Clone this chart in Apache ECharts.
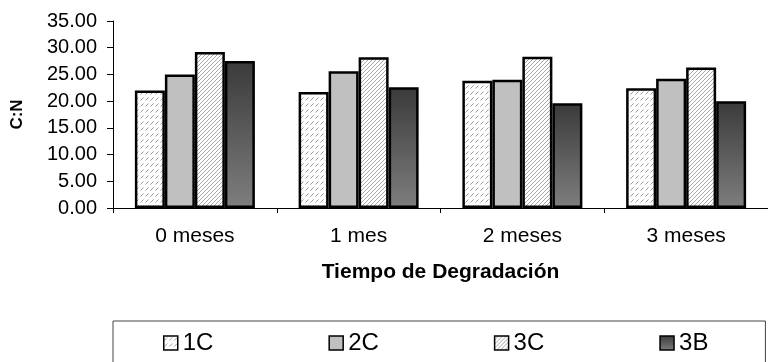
<!DOCTYPE html>
<html>
<head>
<meta charset="utf-8">
<script src="https://cdn.jsdelivr.net/npm/echarts@6/dist/echarts.min.js"></script>
<style>
html,body{margin:0;padding:0;background:#fff;}
#chart{width:768px;height:362px;}
</style>
</head>
<body>
<div id="chart"></div>
<script>
const categories = ['0 meses', '1 mes', '2 meses', '3 meses'];
const seriesNames = ['1C', '2C', '3C', '3B'];
const values1C = [22.0, 21.7, 23.8, 22.4];
const values2C = [25.0, 25.6, 24.0, 24.2];
const values3C = [29.2, 28.2, 28.3, 26.3];
const values3B = [27.5, 22.6, 19.6, 20.0];
const yTicks = [0, 5, 10, 15, 20, 25, 30, 35];

function makeTile(w, h, draw) {
  const c = document.createElement('canvas');
  c.width = w; c.height = h;
  const ctx = c.getContext('2d');
  ctx.fillStyle = '#ffffff';
  ctx.fillRect(0, 0, w, h);
  draw(ctx);
  return { image: c, repeat: 'repeat' };
}
// 1C: rows of short dashed diagonal strokes
const pattern1C = makeTile(5, 6, function (ctx) {
  ctx.strokeStyle = '#999999';
  ctx.lineWidth = 1;
  ctx.beginPath();
  ctx.moveTo(0.5, 4.5); ctx.lineTo(3.5, 1.5);
  ctx.stroke();
});
// 3C: dense diagonal lines
const pattern3C = makeTile(4, 4, function (ctx) {
  ctx.strokeStyle = '#a6a6a6';
  ctx.lineWidth = 1;
  ctx.beginPath();
  ctx.moveTo(-1, 5); ctx.lineTo(5, -1);
  ctx.moveTo(-1, 1); ctx.lineTo(1, -1);
  ctx.moveTo(3, 5); ctx.lineTo(5, 3);
  ctx.stroke();
});
const color2C = '#c0c0c0';
const gradient3B = new echarts.graphic.LinearGradient(0, 0, 0, 1, [
  { offset: 0, color: '#3a3a3a' },
  { offset: 1, color: '#7e7e7e' }
]);

const fills = [pattern1C, color2C, pattern3C, gradient3B];
const dataSets = [values1C, values2C, values3C, values3B];

const chart = echarts.init(document.getElementById('chart'), null, { renderer: 'canvas' });
const font = 'Liberation Sans, Arial, sans-serif';
chart.setOption({
  animation: false,
  backgroundColor: '#ffffff',
  grid: { left: 113, top: 21, width: 668, height: 187, containLabel: false },
  xAxis: {
    type: 'category',
    data: categories,
    name: 'Tiempo de Degradación',
    nameLocation: 'middle',
    nameGap: 54,
    nameTextStyle: { fontFamily: font, fontSize: 21, fontWeight: 'bold', color: '#000' },
    axisLine: { lineStyle: { color: '#000', width: 1 } },
    axisTick: { show: true, length: 5, lineStyle: { color: '#000' } },
    axisLabel: { fontFamily: font, fontSize: 21, color: '#000', margin: 18 }
  },
  yAxis: {
    type: 'value',
    min: yTicks[0],
    max: yTicks[yTicks.length - 1],
    interval: 5,
    name: 'C:N',
    nameLocation: 'middle',
    nameRotate: 90,
    nameGap: 87,
    nameTextStyle: { fontFamily: font, fontSize: 17, fontWeight: 'bold', color: '#000' },
    axisLine: { show: true, lineStyle: { color: '#000', width: 1 } },
    axisTick: { show: true, length: 6, lineStyle: { color: '#000' } },
    splitLine: { show: false },
    axisLabel: {
      fontFamily: font, fontSize: 20, color: '#000', margin: 16,
      formatter: function (v) { return v.toFixed(2); }
    }
  },
  legend: {
    data: seriesNames,
    icon: 'rect',
    left: 113,
    top: 321,
    padding: [10, 57, 20, 50],
    itemGap: 115,
    itemWidth: 14,
    itemHeight: 14,
    borderColor: '#444',
    borderWidth: 1,
    textStyle: { fontFamily: font, fontSize: 24, color: '#000', padding: [0, 0, 0, 0] },
    itemStyle: { borderColor: '#000', borderWidth: 1.5 }
  },
  series: seriesNames.map(function (n, i) {
    return {
      name: n,
      type: 'bar',
      data: dataSets[i],
      barWidth: 30,
      barGap: '0%',
      itemStyle: { color: fills[i], borderColor: '#000', borderWidth: 2.5 }
    };
  })
});
</script>
</body>
</html>
